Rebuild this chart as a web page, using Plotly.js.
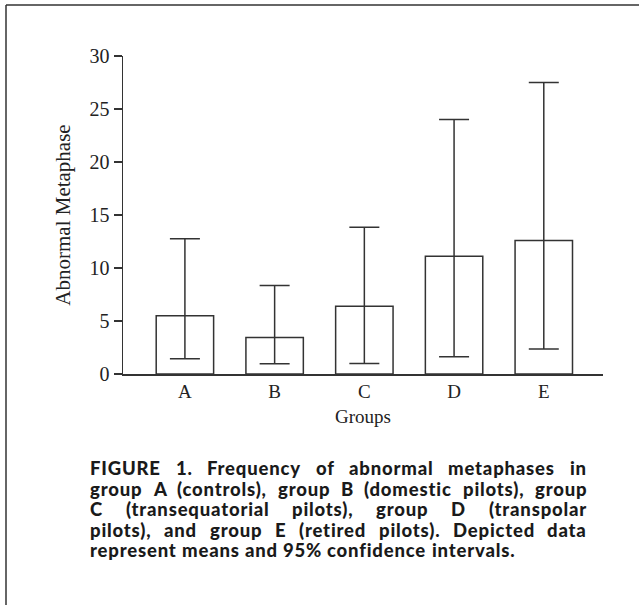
<!DOCTYPE html>
<html>
<head>
<meta charset="utf-8">
<script src="https://cdn.plot.ly/plotly-3.0.1.min.js"></script>
<style>
  html, body { margin: 0; padding: 0; background: #fff; }
  #chart { width: 639px; height: 605px; }
</style>
</head>
<body>
<div id="chart"></div>
<script>
// ---- data ----
const groups = ["A", "B", "C", "D", "E"];
const means = [5.5, 3.45, 6.4, 11.1, 12.6];
const ciUpper = [12.75, 8.35, 13.85, 24.0, 27.5];
const ciLower = [1.45, 0.97, 1.0, 1.62, 2.35];
const yTicks = [0, 5, 10, 15, 20, 25, 30];
const captionLines = [
  "FIGURE 1. Frequency of abnormal metaphases in",
  "group A (controls), group B (domestic pilots), group",
  "C (transequatorial pilots), group D (transpolar",
  "pilots), and group E (retired pilots). Depicted data",
  "represent means and 95% confidence intervals."
];

// ---- layout geometry (px) ----
const W = 639, H = 605;
const M = { l: 123, r: 36, t: 56, b: 231 };
const PW = W - M.l - M.r, PH = H - M.t - M.b;
const px2x = px => (px - M.l) / PW;
const py2y = py => (H - M.b - py) / PH;
const ink = "#333333";

const errPlus = means.map((m, i) => ciUpper[i] - m);
const errMinus = means.map((m, i) => m - ciLower[i]);

const trace = {
  type: "bar",
  x: groups,
  y: means,
  width: 0.64,
  marker: { color: "#ffffff", line: { color: ink, width: 1.5 } },
  error_y: {
    type: "data", symmetric: false,
    array: errPlus, arrayminus: errMinus,
    color: ink, thickness: 1.5, width: 15
  },
  hoverinfo: "skip"
};

// ---- caption as justified words ----
const capFont = 'Lato, "DejaVu Sans", sans-serif';
const capWeight = 900;
const fs = 18.5;
const cv = document.createElement("canvas").getContext("2d");
function measureRaw(t) { cv.font = capWeight + " " + fs + "px " + capFont; return cv.measureText(t).width; }
const capLeft = 88, capRight = 585, capW = capRight - capLeft;
const lastLine = captionLines[captionLines.length - 1];
const lastTarget = 425;
let ls = (lastTarget - measureRaw(lastLine)) / lastLine.length;
// keep every justified line fittable
captionLines.slice(0, -1).forEach(l => {
  const maxLs = (capW * 0.985 - measureRaw(l)) / l.length;
  ls = Math.min(ls, maxLs);
});
ls = Math.max(0, Math.min(ls, 2));
const styleEl = document.createElement("style");
styleEl.textContent = ".annotation-text { letter-spacing: " + ls.toFixed(3) + "px; }";
document.head.appendChild(styleEl);
function measure(t) { return measureRaw(t) + ls * t.length; }

const lineY = [468, 488.5, 509, 529.5, 550];
const annotations = [];
captionLines.forEach((line, li) => {
  const words = line.split(" ");
  const widths = words.map(w => measure(w));
  const sum = widths.reduce((a, b) => a + b, 0);
  const last = li === captionLines.length - 1;
  const gap = last ? measure(" ") : (capW - sum) / (words.length - 1);
  let x = capLeft;
  words.forEach((w, wi) => {
    annotations.push({
      xref: "paper", yref: "paper",
      x: px2x(x), y: py2y(lineY[li]),
      xanchor: "left", yanchor: "middle",
      text: w, showarrow: false,
      font: { family: capFont, size: fs, color: "#1a1a1a", weight: capWeight }
    });
    x += widths[wi] + gap;
  });
});

// frame lines (left and top)
const shapes = [
  { type: "line", xref: "paper", yref: "paper",
    x0: px2x(6), x1: px2x(6), y0: py2y(5), y1: py2y(H + 2),
    line: { color: "#333", width: 1.5 } },
  { type: "line", xref: "paper", yref: "paper",
    x0: px2x(6), x1: px2x(W + 2), y0: py2y(5), y1: py2y(5),
    line: { color: "#333", width: 1.5 } }
];

const serif = '"Liberation Serif", "Times New Roman", serif';
const layout = {
  width: W, height: H,
  margin: M,
  paper_bgcolor: "#fff", plot_bgcolor: "#fff",
  showlegend: false,
  font: { family: serif, size: 20, color: "#222" },
  xaxis: {
    type: "category",
    range: [-0.69, 4.66],
    showline: true, linecolor: ink, linewidth: 1.5,
    ticks: "", showgrid: false, zeroline: false,
    tickfont: { family: serif, size: 19, color: "#222" },
    title: { text: "Groups", font: { family: serif, size: 19, color: "#222" }, standoff: 8 }
  },
  yaxis: {
    range: [0, 30],
    tickvals: yTicks,
    showline: true, linecolor: ink, linewidth: 1.5,
    ticks: "outside", ticklen: 8, tickwidth: 1.5, tickcolor: ink,
    showgrid: false, zeroline: false,
    tickfont: { family: serif, size: 20, color: "#222" },
    title: { text: "Abnormal Metaphase", font: { family: serif, size: 21, color: "#222" }, standoff: 13 }
  },
  annotations: annotations,
  shapes: shapes
};

Plotly.newPlot("chart", [trace], layout, { displayModeBar: false, staticPlot: true });
</script>
</body>
</html>
